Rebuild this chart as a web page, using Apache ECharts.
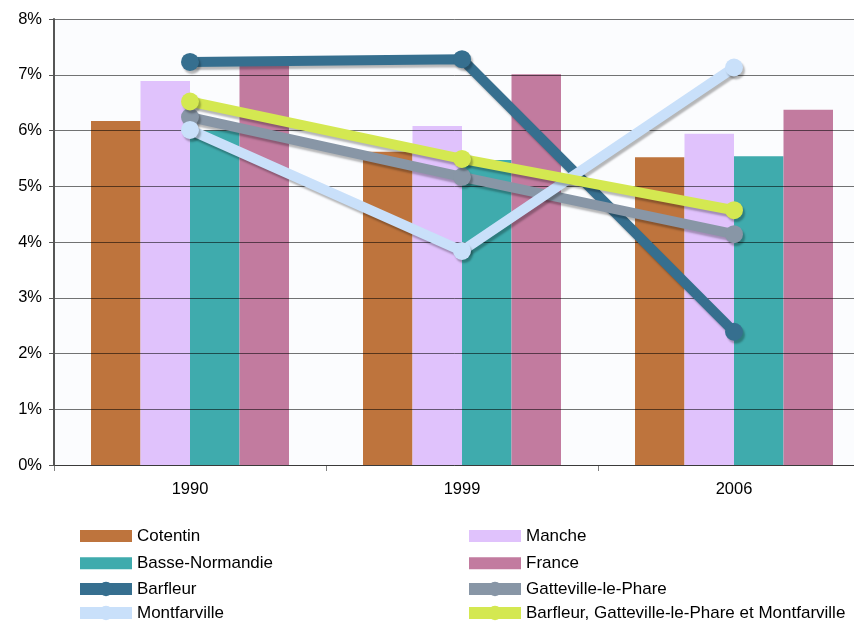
<!DOCTYPE html>
<html>
<head>
<meta charset="utf-8">
<script src="https://cdn.jsdelivr.net/npm/echarts@6/dist/echarts.min.js"></script>
<style>
  html, body { margin: 0; padding: 0; background: #ffffff; }
  #chart { width: 854px; height: 621px; }
</style>
</head>
<body>
<div id="chart"></div>
<script>
  // années
  var years = ['1990', '1999', '2006']
  var yTicks = [0, 1, 2, 3, 4, 5, 6, 7, 8]

  // barres (en %)
  var cotentin = [6.17, 5.62, 5.52]
  var manche = [6.89, 6.08, 5.94]
  var basseNormandie = [6.0, 5.47, 5.54]
  var france = [7.18, 7.01, 6.37]

  // courbes (en %)
  var barfleur = [7.23, 7.28, 2.39]
  var gatteville = [6.24, 5.17, 4.14]
  var montfarville = [6.01, 3.84, 7.13]
  var ensemble = [6.52, 5.49, 4.57]

  var font = 'Liberation Sans, Arial, sans-serif'

  var colors = {
    'Cotentin': '#be743d',
    'Manche': '#e0c2fc',
    'Basse-Normandie': '#3fabad',
    'France': '#c27b9f',
    'Barfleur': '#366f8f',
    'Gatteville-le-Phare': '#8896a6',
    'Montfarville': '#c9e0fa',
    'Barfleur, Gatteville-le-Phare et Montfarville': '#d4e851'
  }

  function barSerie(name, data) {
    return {
      name: name,
      type: 'bar',
      data: data,
      barGap: '0%',
      barWidth: 49.5,
      z: 2,
      itemStyle: { color: colors[name] }
    }
  }

  var shadow = {
    shadowColor: 'rgba(0,0,0,0.28)',
    shadowBlur: 2,
    shadowOffsetX: 2,
    shadowOffsetY: 3
  }

  function lineSerie(name, data) {
    return {
      name: name,
      type: 'line',
      data: data,
      z: 5,
      symbol: 'circle',
      symbolSize: 18,
      lineStyle: Object.assign({ width: 10, color: colors[name] }, shadow),
      itemStyle: Object.assign({ color: colors[name] }, shadow),
      emphasis: { disabled: true }
    }
  }

  function barLegend(names, left, top) {
    return {
      orient: 'vertical',
      left: left, top: top, height: 80,
      itemWidth: 52, itemHeight: 12, itemGap: 10.3, padding: 0,
      textStyle: { fontFamily: font, fontSize: 17, color: '#000' },
      data: names.map(function (n) { return { name: n, icon: 'rect' } })
    }
  }

  function lineLegend(names, left, top) {
    return {
      orient: 'vertical',
      left: left, top: top, height: 80,
      itemWidth: 52, itemHeight: 18, itemGap: 7, padding: 0,
      textStyle: { fontFamily: font, fontSize: 17, color: '#000' },
      data: names.map(function (n) {
        return { name: n, lineStyle: { width: 12, color: colors[n] }, itemStyle: { color: colors[n] } }
      })
    }
  }

  var option = {
    backgroundColor: '#ffffff',
    animation: false,
    grid: {
      left: 54, top: 19, width: 816, height: 446,
      outerBoundsMode: 'none',
      backgroundColor: '#fbfcfe', show: true, borderWidth: 0
    },
    legend: [
      barLegend(['Cotentin', 'Basse-Normandie'], 80, 527.5),
      lineLegend(['Barfleur', 'Montfarville'], 74, 580.5),
      barLegend(['Manche', 'France'], 469, 527.5),
      lineLegend(['Gatteville-le-Phare', 'Barfleur, Gatteville-le-Phare et Montfarville'], 463, 580.5)
    ],
    xAxis: {
      type: 'category',
      data: years,
      axisLine: { lineStyle: { color: '#808080', width: 1 } },
      axisTick: { show: true, length: 6, lineStyle: { color: '#808080' } },
      axisLabel: { fontFamily: font, fontSize: 16.5, color: '#000', margin: 16 }
    },
    yAxis: {
      type: 'value',
      min: 0,
      max: 8,
      interval: 1,
      z: 3,
      axisLine: { show: true, lineStyle: { color: '#555', width: 2 } },
      axisTick: { show: true, length: 5, lineStyle: { color: '#555' } },
      axisLabel: {
        fontFamily: font, fontSize: 16.5, color: '#000', margin: 12,
        formatter: function (v) { return yTicks.indexOf(v) >= 0 ? v + '%' : '' }
      },
      splitLine: { show: true, lineStyle: { color: 'rgba(0,0,0,0.55)', width: 1 } }
    },
    series: [
      barSerie('Cotentin', cotentin),
      barSerie('Manche', manche),
      barSerie('Basse-Normandie', basseNormandie),
      barSerie('France', france),
      lineSerie('Barfleur', barfleur),
      lineSerie('Gatteville-le-Phare', gatteville),
      lineSerie('Montfarville', montfarville),
      lineSerie('Barfleur, Gatteville-le-Phare et Montfarville', ensemble)
    ]
  }

  var myChart = echarts.init(document.getElementById('chart'))
  myChart.setOption(option)
</script>
</body>
</html>
